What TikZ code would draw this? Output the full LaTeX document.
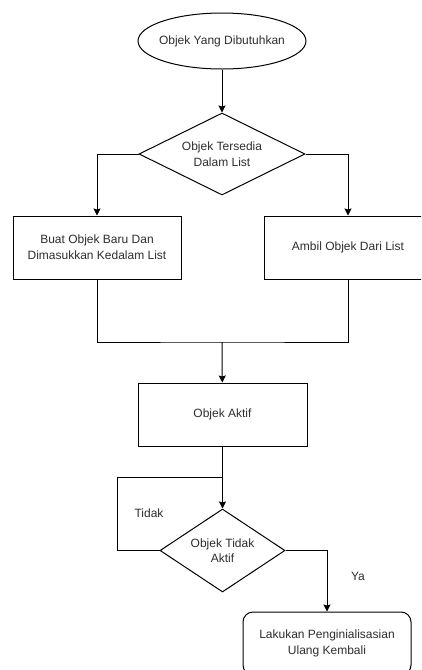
\documentclass[tikz,border=0pt]{standalone}
\usepackage{fontspec}
\setmainfont{Liberation Sans}
\usetikzlibrary{shapes.geometric,arrows.meta}
\tikzset{
  txt/.style={text=black!82, font=\fontsize{12}{15.6}\selectfont, align=center, inner sep=0pt},
  shp/.style={draw=black, line width=1pt, inner sep=0pt},
  procbox/.style={shp, rectangle, minimum width=168pt, minimum height=63pt},
  dec/.style={shp, diamond},
  conn/.style={draw=black, line width=1pt},
  arr/.style={conn, -{Stealth[length=7pt,width=7pt,inset=1pt]}}
}
\begin{document}
\begin{tikzpicture}[x=1pt,y=-1pt]
\useasboundingbox (0,0) rectangle (421,670);
\fill[white] (0,0) rectangle (421,670);
\clip (0,0) rectangle (421,670);

\node[shp, ellipse, minimum width=168pt, minimum height=56pt,
      label={[txt]center:Objek Yang Dibutuhkan}] (start) at (222,41) {};
\node[dec, minimum width=166pt, minimum height=82pt,
      label={[txt]center:Objek Tersedia\\Dalam List}] (d1) at (222,154) {};
\node[procbox, txt] (b1) at (97,247.5) {Buat Objek Baru Dan\\Dimasukkan Kedalam List};
\node[procbox, txt] (b2) at (348,247.5) {Ambil Objek Dari List};
\coordinate (j) at (222,342);
\node[procbox, txt, minimum width=169pt] (act) at (222.5,414.5) {Objek Aktif};
\node[dec, minimum width=125pt, minimum height=83pt,
      label={[txt]center:Objek Tidak\\Aktif}] (d2) at (222.5,550.5) {};
\coordinate (lp) at (117,477);
\coordinate (lj) at (222.5,477);
\node[procbox, txt, rounded corners=10pt] (end) at (327,643.5) {Lakukan Penginialisasian\\Ulang Kembali};

\node[txt] (tidak) at (149,513) {Tidak};
\node[txt] (ya) at (358,576) {Ya};

\draw[arr] (start) -- (d1);
\draw[arr] (d1.west) -| (b1.north);
\draw[arr] (d1.east) -| (b2.north);
\draw[conn] (b1.south) |- (j) -| (b2.south);
\draw[arr] (j) -- (act);
\draw[arr] (act) -- (d2);
\draw[conn] (d2.west) -| (lp) -- (lj);
\draw[arr] (d2.east) -| (end.north);
\end{tikzpicture}
\end{document}
